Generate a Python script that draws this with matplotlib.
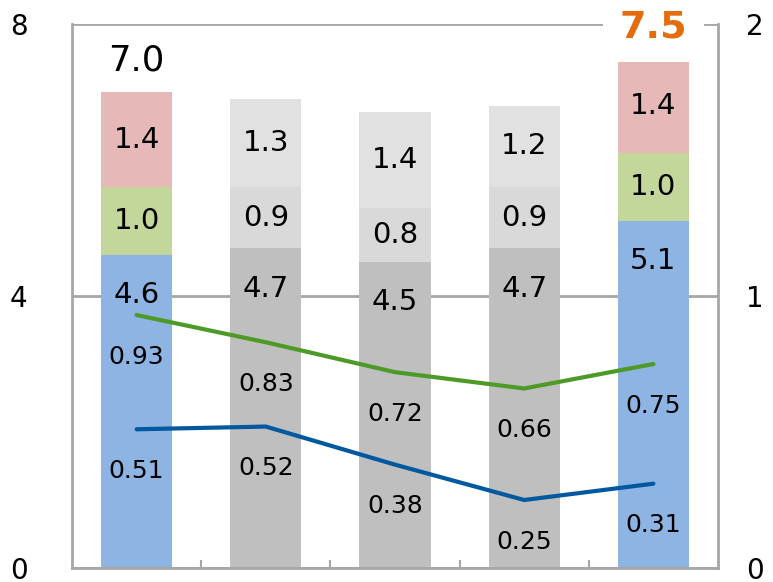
import matplotlib.pyplot as plt
import numpy as np

# stacked bar values (left axis)
base = [4.6, 4.7, 4.5, 4.7, 5.1]
middle = [1.0, 0.9, 0.8, 0.9, 1.0]
upper = [1.4, 1.3, 1.4, 1.2, 1.4]
totals = [7.0, None, None, None, 7.5]

# line values (right axis)
green_line = [0.93, 0.83, 0.72, 0.66, 0.75]
blue_line = [0.51, 0.52, 0.38, 0.25, 0.31]

highlight = [True, False, False, False, True]

x = np.arange(len(base))
width = 0.55

base_col = ['#8db4e2' if h else '#bfbfbf' for h in highlight]
mid_col = ['#c4d79b' if h else '#d9d9d9' for h in highlight]
up_col = ['#e6b9b8' if h else '#e1e1e1' for h in highlight]

fig = plt.figure(figsize=(7.73, 5.82), dpi=100)
ax = fig.add_axes([72 / 773, 1 - 568 / 582, (718 - 72) / 773, (568 - 24) / 582])

ax.bar(x, base, width, color=base_col, zorder=2)
ax.bar(x, middle, width, bottom=base, color=mid_col, zorder=2)
bottom2 = [b + m for b, m in zip(base, middle)]
ax.bar(x, upper, width, bottom=bottom2, color=up_col, zorder=2)

seg_fs = 21
for i in range(len(x)):
    ax.annotate(f'{base[i]:.1f}', (x[i], base[i]), xytext=(0, -29),
                textcoords='offset points', ha='center', va='center',
                fontsize=seg_fs, zorder=5)
    ax.text(x[i], base[i] + middle[i] / 2, f'{middle[i]:.1f}', ha='center',
            va='center', fontsize=seg_fs, zorder=5)
    ax.text(x[i], bottom2[i] + upper[i] / 2, f'{upper[i]:.1f}', ha='center',
            va='center', fontsize=seg_fs, zorder=5)

ax.annotate(f'{totals[0]:.1f}', (x[0], totals[0]), xytext=(0, 23),
            textcoords='offset points', ha='center', va='center',
            fontsize=25.5, zorder=5)
ax.annotate(f'{totals[4]:.1f}', (x[4], totals[4]), xytext=(0, 22),
            textcoords='offset points', ha='center', va='center',
            fontsize=27.5, fontweight='bold', color='#e46c0a', zorder=6,
            bbox=dict(facecolor='white', edgecolor='none', pad=12),
            annotation_clip=False)

ax.set_xlim(-0.5, 4.5)
ax.set_ylim(0, 8)
ax.set_yticks([0, 4, 8])
ax.yaxis.grid(True, color='#a6a6a6', linewidth=2, zorder=1)
ax.set_axisbelow(True)
ax.set_xticks([])
ax.set_xticks(np.arange(0.5, 4.5, 1), minor=True)
ax.tick_params(axis='x', which='minor', direction='in', length=6,
               width=1.5, color='#a6a6a6')
ax.tick_params(axis='y', length=0, labelsize=20, pad=32)
for s in ['top']:
    ax.spines[s].set_visible(False)
for s in ['left', 'bottom', 'right']:
    ax.spines[s].set_color('#a6a6a6')
    ax.spines[s].set_linewidth(2)

ax2 = ax.twinx()
ax2.set_ylim(0, 2)
ax2.set_yticks([0, 1, 2])
ax2.tick_params(axis='y', length=0, labelsize=20, pad=20)
for s in ax2.spines.values():
    s.set_visible(False)

ax2.plot(x, green_line, color='#4e9a27', linewidth=3, solid_capstyle='round', zorder=3)
ax2.plot(x, blue_line, color='#0059a0', linewidth=3, solid_capstyle='round', zorder=3)

for i in range(len(x)):
    ax2.annotate(f'{green_line[i]:.2f}', (x[i], green_line[i]), xytext=(0, -30),
                 textcoords='offset points', ha='center', va='center', fontsize=18)
    ax2.annotate(f'{blue_line[i]:.2f}', (x[i], blue_line[i]), xytext=(0, -30),
                 textcoords='offset points', ha='center', va='center', fontsize=18)

fig.savefig('out.png', dpi=100)
